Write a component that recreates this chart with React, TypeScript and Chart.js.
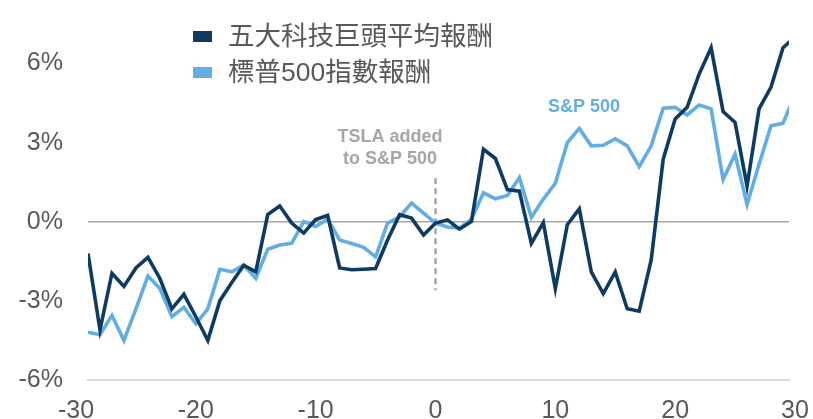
import React, { useEffect, useRef } from 'react';
import { Chart, registerables } from 'chart.js';

Chart.register(...registerables);

// Trading days relative to TSLA being added to the S&P 500
const DAYS = [
  -29, -28, -27, -26, -25, -24, -23, -22, -21, -20,
  -19, -18, -17, -16, -15, -14, -13, -12, -11, -10,
  -9, -8, -7, -6, -5, -4, -3, -2, -1, 0,
  1, 2, 3, 4, 5, 6, 7, 8, 9, 10,
  11, 12, 13, 14, 15, 16, 17, 18, 19, 20,
  21, 22, 23, 24, 25, 26, 27, 28, 29, 30,
];

// 五大科技巨頭平均報酬 (%)
const BIG_TECH = [
  -1.2, -4.1, -1.95, -2.45, -1.75, -1.35, -2.15, -3.3, -2.75, -3.6,
  -4.5, -3.0, -2.3, -1.65, -1.9, 0.27, 0.6, -0.05, -0.43, 0.08,
  0.24, -1.75, -1.82, -1.8, -1.77, -0.69, 0.27, 0.14, -0.5, -0.05,
  0.07, -0.28, 0.01, 2.75, 2.4, 1.22, 1.16, -0.82, -0.03, -2.53,
  -0.11, 0.49, -1.9, -2.72, -1.9, -3.3, -3.39, -1.45, 2.37, 3.9,
  4.34, 5.6, 6.6, 4.18, 3.77, 1.35, 4.28, 5.11, 6.6, 7.0,
];

// 標普500指數報酬 (%)
const SP500 = [
  -4.19, -4.28, -3.55, -4.5, -3.3, -2.06, -2.53, -3.6, -3.24, -3.87,
  -3.3, -1.8, -1.9, -1.64, -2.15, -1.04, -0.88, -0.82, 0.01, -0.18,
  0.1, -0.69, -0.82, -0.97, -1.33, -0.05, 0.18, 0.71, 0.33, -0.05,
  -0.2, -0.24, 0.1, 1.1, 0.87, 1.0, 1.67, 0.17, 0.86, 1.46,
  3.0, 3.54, 2.88, 2.9, 3.15, 2.88, 2.09, 2.88, 4.31, 4.34,
  4.05, 4.43, 4.28, 1.6, 2.56, 0.65, 2.18, 3.64, 3.74, 4.8,
];

const SERIES_NAMES = ['五大科技巨頭平均報酬', '標普500指數報酬'];
const X_TICKS = [-30, -20, -10, 0, 10, 20, 30];
const Y_TICKS = [-6, -3, 0, 3, 6];

const EVENT_DAY = 0;
const EVENT_LINE_RANGE = [1.65, -2.6];
const EVENT_TEXT = ['TSLA added', 'to S&P 500'];
const EVENT_TEXT_POS = { x: -3.8, y: [3.22, 2.39] };
const SP_LABEL = 'S&P 500';
const SP_LABEL_POS = { x: 12.4, y: 4.36 };

const DARK = '#0f3a62';
const LIGHT = '#62aee4';
const TEXT = '#595959';
const GREY = '#a6a6a6';
const FONT = "'Liberation Sans', Arial, 'Noto Sans CJK TC', sans-serif";

const annotationPlugin = {
  id: 'eventAnnotation',
  beforeDatasetsDraw(chart: any) {
    const { ctx, scales } = chart;
    const xs = scales.x;
    const ys = scales.y;
    const x0 = xs.getPixelForValue(EVENT_DAY);
    ctx.save();
    ctx.strokeStyle = GREY;
    ctx.lineWidth = 2.5;
    ctx.setLineDash([6, 4]);
    ctx.beginPath();
    ctx.moveTo(x0, ys.getPixelForValue(EVENT_LINE_RANGE[0]));
    ctx.lineTo(x0, ys.getPixelForValue(EVENT_LINE_RANGE[1]));
    ctx.stroke();
    ctx.setLineDash([]);
    ctx.fillStyle = GREY;
    ctx.font = `bold 18px ${FONT}`;
    ctx.textAlign = 'center';
    ctx.textBaseline = 'middle';
    EVENT_TEXT.forEach((t, i) => {
      ctx.fillText(t, xs.getPixelForValue(EVENT_TEXT_POS.x), ys.getPixelForValue(EVENT_TEXT_POS.y[i]));
    });
    ctx.fillStyle = LIGHT;
    ctx.fillText(SP_LABEL, xs.getPixelForValue(SP_LABEL_POS.x), ys.getPixelForValue(SP_LABEL_POS.y));
    ctx.restore();
  },
};

const legendPlugin = {
  id: 'insideLegend',
  afterDraw(chart: any) {
    const ctx = chart.ctx;
    ctx.save();
    chart.data.datasets.forEach((ds: any, i: number) => {
      const cy = 36.5 + i * 36;
      ctx.fillStyle = ds.borderColor;
      ctx.fillRect(193, cy - 5.5, 19, 11);
      ctx.fillStyle = TEXT;
      ctx.font = `26.5px ${FONT}`;
      ctx.textAlign = 'left';
      ctx.textBaseline = 'middle';
      ctx.fillText(ds.label, 228, cy + 1);
    });
    ctx.restore();
  },
};

export default function App() {
  const ref = useRef<HTMLCanvasElement | null>(null);

  useEffect(() => {
    if (!ref.current) return;
    const chart = new Chart(ref.current, {
      type: 'line',
      data: {
        datasets: [
          {
            label: SERIES_NAMES[0],
            data: DAYS.map((d, i) => ({ x: d, y: BIG_TECH[i] })),
            borderColor: DARK,
            backgroundColor: DARK,
            borderWidth: 3.6,
            pointRadius: 0,
            tension: 0,
          },
          {
            label: SERIES_NAMES[1],
            data: DAYS.map((d, i) => ({ x: d, y: SP500[i] })),
            borderColor: LIGHT,
            backgroundColor: LIGHT,
            borderWidth: 3.6,
            pointRadius: 0,
            tension: 0,
          },
        ],
      },
      options: {
        responsive: false,
        animation: false,
        layout: { padding: { top: 24, right: 24, left: 0, bottom: 0 } },
        plugins: { legend: { display: false }, tooltip: { enabled: false } },
        scales: {
          x: {
            type: 'linear',
            min: -29,
            max: 29.5,
            afterBuildTicks: (s: any) => {
              s.ticks = X_TICKS.map((v) => ({ value: v }));
            },
            afterFit: (s: any) => {
              s.height = 39;
              s.paddingLeft = 0;
              s.paddingRight = 0;
            },
            grid: { display: false, drawTicks: false },
            border: { display: true, color: '#d9d9d9', width: 2 },
            ticks: {
              autoSkip: false,
              maxRotation: 0,
              padding: 16,
              color: TEXT,
              font: { family: FONT, size: 25 },
              callback: (v: any) => String(v),
            },
          },
          y: {
            min: -6,
            max: 7.5,
            afterBuildTicks: (s: any) => {
              s.ticks = Y_TICKS.map((v) => ({ value: v }));
            },
            afterFit: (s: any) => {
              s.width = 88;
              s.paddingTop = 0;
              s.paddingBottom = 0;
            },
            grid: {
              drawTicks: false,
              lineWidth: 1.5,
              color: (c: any) => (c.tick && c.tick.value === 0 ? GREY : 'rgba(0,0,0,0)'),
            },
            border: { display: false },
            ticks: {
              padding: 25,
              color: TEXT,
              font: { family: FONT, size: 25 },
              callback: (v: any) => `${v}%`,
            },
          },
        },
      } as any,
      plugins: [annotationPlugin, legendPlugin],
    });
    return () => chart.destroy();
  }, []);

  return (
    <div style={{ position: 'fixed', left: 0, top: 0, width: 813, height: 419, background: '#fff' }}>
      <canvas ref={ref} width={813} height={419} style={{ width: 813, height: 419, display: 'block' }} />
    </div>
  );
}
